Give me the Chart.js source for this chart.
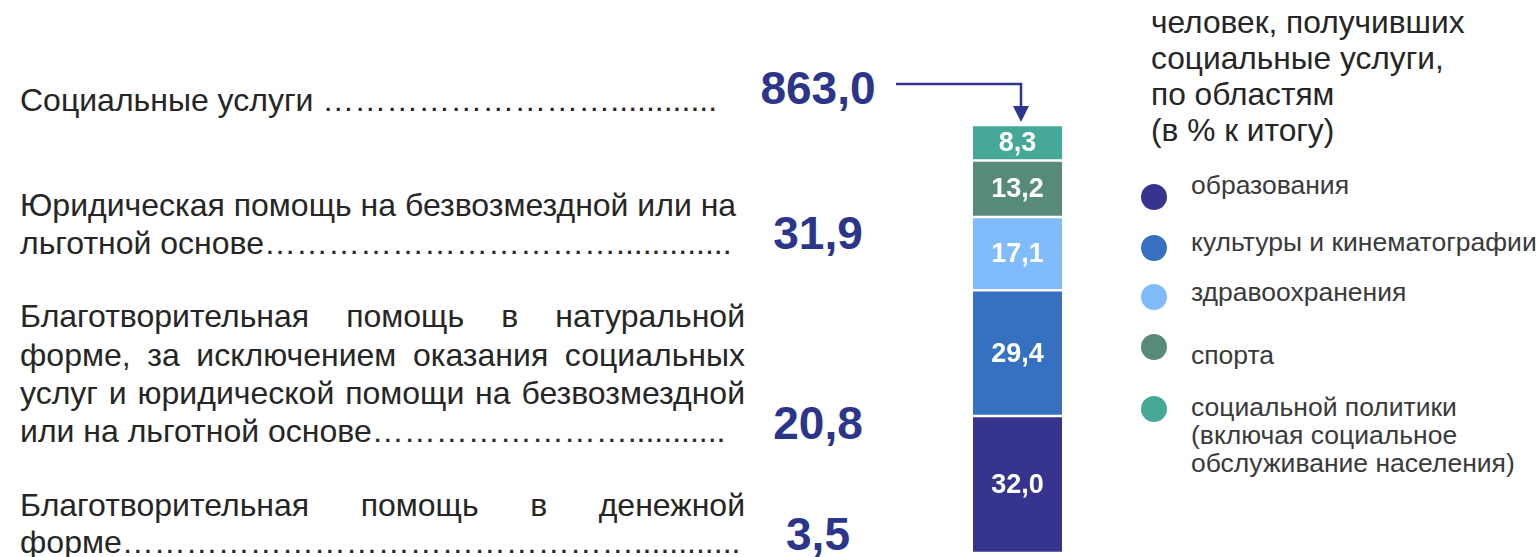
<!DOCTYPE html>
<html>
<head>
<meta charset="utf-8">
<script src="https://cdn.jsdelivr.net/npm/chart.js@4"></script>
<style>
  body { margin: 0; width: 1540px; height: 557px; background: #fff; position: relative; overflow: hidden;
         font-family: "Liberation Sans", Arial, sans-serif; }
  .line { position: absolute; left: 20px; white-space: nowrap; font-size: 32px; line-height: 38px; color: #262626; }
  .just { width: 725px; text-align: justify; text-align-last: justify; white-space: normal; }
  .total { position: absolute; width: 140px; text-align: center; font-weight: bold; font-size: 46px;
           line-height: 50px; color: #2b3589; }
  .title { position: absolute; left: 1151px; top: 4px; font-size: 31.7px; line-height: 36px; color: #262626; }
  .leg-dot { position: absolute; width: 26px; height: 26px; border-radius: 50%; }
  .leg-txt { position: absolute; left: 1191px; font-size: 26.5px; line-height: 28px; color: #3a3a3a; white-space: nowrap; }
  #barBox { position: absolute; left: 973px; top: 125px; width: 89px; height: 428px; }
  svg { position: absolute; left: 0; top: 0; }
</style>
</head>
<body>
<div id="texts"></div>
<svg width="1540" height="557">
  <polyline points="896,84 1021,84 1021,108" fill="none" stroke="#2e3590" stroke-width="2.5"/>
  <polygon points="1013,106 1029,106 1021,122" fill="#2e3590"/>
</svg>
<div class="title">человек, получивших<br>социальные услуги,<br>по областям<br>(в % к итогу)</div>
<div id="barBox"><canvas id="myChart"></canvas></div>
<div id="legend"></div>
<script>
// left-hand rows: totals, thousand persons
var rowTotals = [863.0, 31.9, 20.8, 3.5];
var rowLines = [
    ['Социальные услуги '],
    ['Юридическая помощь на безвозмездной или на', 'льготной основе'],
    ['Благотворительная помощь  в  натуральной', 'форме, за исключением оказания социальных',
     'услуг и юридической помощи на безвозмездной', 'или на льготной основе'],
    ['Благотворительная помощь в денежной', 'форме']
];

// stacked bar: share of recipients by area (% of total)
var areas = ['образования', 'культуры и кинематографии', 'здравоохранения', 'спорта',
             'социальной политики\n(включая социальное\nобслуживание населения)'];
var shares = [32.0, 29.4, 17.1, 13.2, 8.3];
var colors = ['#37348f', '#3670c0', '#80bbfc', '#578b78', '#46a997'];

// layout of the left block
var lineTops = [[81], [186, 224], [297, 336, 374, 412], [486, 523]];
var justified = [[false], [false, false], [true, true, true, false], [true, false]];
var leaderEnds = [[724], [null, 733], [null, null, null, 733], [null, 748]];
var totalTops = [63, 208, 398, 509];

// build a dot leader that reaches the given x
var mctx = document.createElement('canvas').getContext('2d');
mctx.font = '32px "Liberation Sans", Arial, sans-serif';
function withLeader(t, end) {
    var avail = end - 20 - mctx.measureText(t).width;
    var e = mctx.measureText('…').width, p = mctx.measureText('.').width;
    var nE = Math.max(0, Math.floor((avail - 10 * p) / e));
    var nP = Math.max(0, Math.floor((avail - nE * e) / p));
    return t + '…'.repeat(nE) + '.'.repeat(nP);
}

var texts = document.getElementById('texts');
rowLines.forEach(function (lines, i) {
    lines.forEach(function (t, j) {
        var d = document.createElement('div');
        d.className = 'line' + (justified[i][j] ? ' just' : '');
        d.style.top = lineTops[i][j] + 'px';
        d.textContent = leaderEnds[i][j] ? withLeader(t, leaderEnds[i][j]) : t;
        texts.appendChild(d);
    });
    var n = document.createElement('div');
    n.className = 'total';
    n.style.left = '748px';
    n.style.top = totalTops[i] + 'px';
    n.textContent = rowTotals[i].toFixed(1).replace('.', ',');
    texts.appendChild(n);
});

// legend
var dotTops = [184, 235, 284, 334, 396];
var txtTops = [171, 228, 278, 341, 393];
var legend = document.getElementById('legend');
areas.forEach(function (a, i) {
    var dot = document.createElement('div');
    dot.className = 'leg-dot';
    dot.style.left = '1141px';
    dot.style.top = dotTops[i] + 'px';
    dot.style.background = colors[i];
    legend.appendChild(dot);
    var t = document.createElement('div');
    t.className = 'leg-txt';
    t.style.top = txtTops[i] + 'px';
    t.innerHTML = a.replace(/\n/g, '<br>');
    legend.appendChild(t);
});

var valueLabels = {
    id: 'valueLabels',
    afterDatasetsDraw: function (chart) {
        var c = chart.ctx;
        c.save();
        c.fillStyle = '#fff';
        c.font = 'bold 27px "Liberation Sans", Arial, sans-serif';
        c.textAlign = 'center';
        c.textBaseline = 'middle';
        chart.data.datasets.forEach(function (ds, i) {
            chart.getDatasetMeta(i).data.forEach(function (el, k) {
                c.fillText(ds.data[k].toFixed(1).replace('.', ','), el.x, (el.y + el.base) / 2 + 1);
            });
        });
        c.restore();
    }
};

var ctx = document.getElementById('myChart').getContext('2d');
var myChart = new Chart(ctx, {
    type: 'bar',
    data: {
        labels: ['итого'],
        datasets: areas.map(function (a, i) {
            return {
                label: a,
                data: [shares[i]],
                backgroundColor: colors[i],
                borderColor: '#fff',
                borderWidth: { top: 1.5, bottom: 1.5, left: 0, right: 0 },
                borderSkipped: false,
                barPercentage: 1,
                categoryPercentage: 1
            };
        })
    },
    options: {
        responsive: true,
        maintainAspectRatio: false,
        animation: false,
        layout: { padding: 0 },
        plugins: { legend: { display: false }, tooltip: { enabled: false } },
        scales: {
            x: { display: false, stacked: true },
            y: { display: false, stacked: true, min: 0, max: 100 }
        }
    },
    plugins: [valueLabels]
});
</script>
</body>
</html>
